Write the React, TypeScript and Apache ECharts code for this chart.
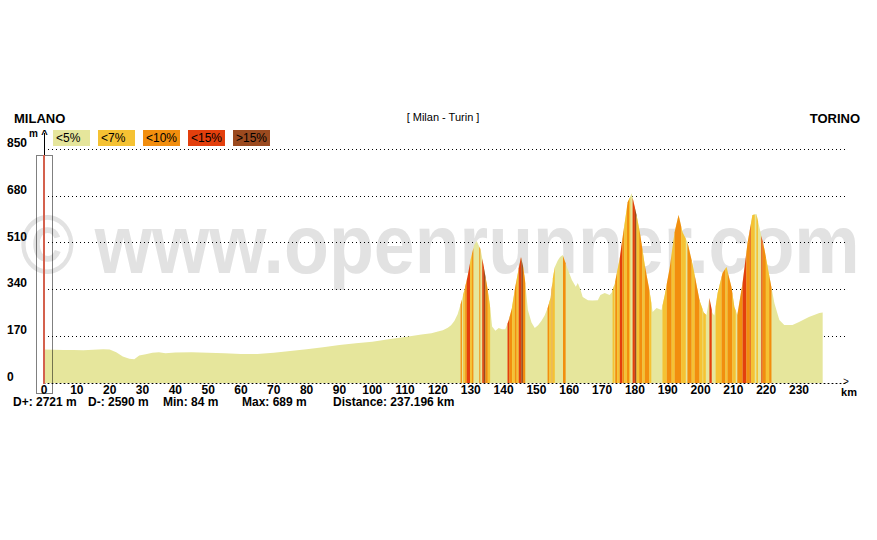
import React, { useEffect, useRef } from "react";
import * as echarts from "echarts";

// ---- data ----
const distKm: number[] = [
  0, 3, 6, 9, 12, 15, 18, 20, 22, 24, 26, 27.5, 29, 31, 33, 35, 37, 40, 45, 50, 55, 60, 65, 70, 75, 80, 85, 90, 95, 100,
  105, 110, 115, 118, 120, 121.5, 123, 124, 125, 126, 127, 128, 129, 130, 131, 131.8, 133, 134, 135, 135.8, 136.5, 137.5,
  138.5, 139.5, 140.5, 141.5, 142.5, 143.5, 144.5, 145.3, 146, 146.5, 147.4, 148.5, 149.5, 150.5, 151.5, 152.5, 153.5,
  154.3, 155, 155.6, 156.5, 157.2, 158, 159.3, 160.8, 162, 162.6, 163.4, 164.1, 165.7, 167, 168.7, 169.5, 170.8, 172.3,
  173, 173.9, 175.4, 176, 177, 177.8, 178.5, 179, 180.5, 181.5, 183, 184.5, 185.4, 186.6, 188.1, 189.1, 190.6, 192.1,
  193.3, 194.5, 196, 197.6, 199.7, 201, 201.8, 202.7, 203.6, 204.2, 205.2, 206.7, 207.9, 209.4, 210.3, 211.2, 212.8,
  214.3, 215.8, 217, 217.9, 219.5, 221, 222.5, 224, 225.5, 228, 230, 233, 236.2, 237.2,
];
const elevM: number[] = [
  122, 121, 120, 120, 119, 121, 123, 122, 112, 96, 88, 86, 100, 104, 110, 112, 108, 111, 112, 110, 108, 105, 105, 110, 116, 123, 130, 138, 144, 150,
  159, 167, 176, 181, 187, 192, 201, 210, 225, 250, 290, 335, 385, 450, 500, 516, 485, 420, 350, 285, 205, 190,
  200, 195, 195, 225, 270, 345, 410, 458, 420, 375, 265, 220, 200, 210, 225, 245, 275,
  310, 380, 421, 445, 458, 465, 421, 374, 350, 363, 340, 312, 301, 300, 301, 320, 327, 320,
  330, 363, 454, 508, 590, 657, 675, 689, 610, 548, 429, 331, 258, 272, 265, 320, 418, 548,
  610, 548, 512, 429, 300, 255, 247, 309, 254, 245, 327, 400, 421, 349, 276, 247, 363,
  508, 610, 614, 567, 483, 385, 290, 229, 211, 211, 222, 240, 254, 256,
];

// gradient stripes: [start km, end km, class index]
const stripes: number[][] = [
  [126.9, 127.3, 2], [127.7, 128.2, 1], [128.3, 128.8, 2], [128.8, 129.8, 3], [129.8, 130.4, 1], [130.4, 130.8, 2],
  [132.6, 132.9, 2], [133.5, 134.0, 3], [134.0, 134.5, 4], [134.5, 135.2, 2], [135.2, 135.9, 1],
  [141.2, 141.8, 3], [141.8, 142.6, 2], [142.6, 143.4, 1], [143.4, 144.0, 2], [144.0, 144.6, 1], [144.6, 145.4, 3],
  [145.4, 145.9, 4], [145.9, 146.6, 2],
  [153.4, 153.9, 2], [153.9, 154.4, 1], [154.6, 154.9, 2], [155.0, 155.6, 1], [158.1, 158.9, 2],
  [173.2, 173.8, 1], [174.0, 174.6, 2], [174.6, 175.4, 1], [175.4, 176.2, 3], [176.2, 176.8, 2], [176.8, 177.6, 1],
  [177.6, 178.2, 2], [178.2, 178.6, 1], [179.3, 180.0, 3], [180.0, 180.5, 4], [180.5, 181.3, 1], [181.3, 182.3, 2],
  [182.3, 183.0, 1], [183.0, 184.4, 2], [184.4, 185.0, 1],
  [188.4, 189.7, 1], [189.7, 191.2, 2], [191.2, 192.1, 1], [192.1, 194.1, 2], [194.1, 195.5, 1], [196.0, 197.3, 2],
  [197.3, 198.2, 1], [198.2, 199.7, 2], [199.7, 200.6, 1],
  [200.8, 201.6, 1], [202.7, 203.4, 3], [204.6, 206.4, 1], [206.4, 207.6, 2], [207.6, 208.2, 1], [208.2, 209.7, 2],
  [209.7, 210.7, 1], [211.2, 212.8, 2], [212.8, 214.0, 3], [214.0, 215.0, 2], [215.0, 215.3, 3], [215.3, 216.5, 1],
  [217.0, 217.5, 1], [218.5, 218.9, 3], [218.9, 219.9, 2], [219.9, 220.9, 1], [220.9, 221.6, 2],
];

const classLabels: string[] = ["<5%", "<7%", "<10%", "<15%", ">15%"];
const classColors: string[] = ["#e6e69c", "#f5c233", "#f28e0e", "#e33f0d", "#9b4a1f"];

const yTicks: number[] = [0, 170, 340, 510, 680, 850];
const startName = "MILANO";
const endName = "TORINO";
const routeTitle = "[ Milan - Turin ]";
const statTexts: string[] = ["D+: 2721 m", "D-: 2590 m", "Min: 84 m", "Max: 689 m", "Distance: 237.196 km"];
const statX: number[] = [13, 88, 163, 242, 333];
const watermark = "© www.openrunner.com";

const FONT = "'Liberation Sans', Arial, sans-serif";

function elevAt(km: number): number {
  if (km <= distKm[0]) return elevM[0];
  for (let i = 0; i < distKm.length - 1; i++) {
    if (km >= distKm[i] && km <= distKm[i + 1]) {
      const t = (km - distKm[i]) / (distKm[i + 1] - distKm[i]);
      return elevM[i] + t * (elevM[i + 1] - elevM[i]);
    }
  }
  return elevM[elevM.length - 1];
}

export default function App() {
  const ref = useRef<HTMLDivElement>(null);
  useEffect(() => {
    document.body.style.margin = "0";
    if (!ref.current) return;
    const chart = echarts.init(ref.current, undefined, { renderer: "svg" });

    const legendEls: any[] = [];
    classLabels.forEach((lab, i) => {
      legendEls.push({
        type: "rect",
        z: 100,
        shape: { x: 53 + 45 * i, y: 130, width: 37, height: 16 },
        style: { fill: classColors[i] },
      });
      legendEls.push({
        type: "text",
        z: 101,
        x: 56 + 45 * i,
        y: 138,
        style: { text: lab, fill: "#000", font: `12px ${FONT}`, textAlign: "left", textVerticalAlign: "middle" },
      });
    });

    const statEls = statTexts.map((t, i) => ({
      type: "text",
      x: statX[i],
      y: 402,
      style: {
        text: t,
        fill: "#000",
        font: `bold 12px ${FONT}`,
        lineHeight: 11,
        textAlign: "left",
        textVerticalAlign: "middle",
      },
    }));

    const option: any = {
      animation: false,
      backgroundColor: "#fff",
      grid: { left: 44, right: 32, top: 149, bottom: 157 },
      xAxis: {
        type: "value",
        min: 0,
        max: 244,
        interval: 10,
        axisLine: { show: true, lineStyle: { color: "#000", type: [1, 3], width: 1 } },
        axisTick: { show: false },
        splitLine: { show: false },
        axisLabel: {
          color: "#000",
          fontWeight: "bold",
          fontSize: 12,
          lineHeight: 11,
          fontFamily: FONT,
          margin: 1,
          formatter: (v: number) => (v > 235 ? "" : String(v)),
        },
      },
      yAxis: {
        type: "value",
        min: 0,
        max: 850,
        interval: 170,
        axisLine: { show: true, lineStyle: { color: "#000", width: 1 } },
        axisTick: { show: false },
        splitLine: { show: true, lineStyle: { color: "#000", type: [1, 3], width: 1 } },
        axisLabel: {
          color: "#000",
          fontWeight: "bold",
          fontSize: 12,
          fontFamily: FONT,
          align: "left",
          verticalAlign: "bottom",
          margin: 37,
          formatter: (v: number) => (yTicks.indexOf(v) >= 0 ? String(v) : ""),
        },
      },
      graphic: [
        {
          type: "text",
          z: -1,
          x: 440,
          y: 244,
          scaleX: 0.875,
          style: {
            text: watermark,
            fill: "#e2e2e2",
            font: `bold 84px ${FONT}`,
            textAlign: "center",
            textVerticalAlign: "middle",
          },
        },
        {
          type: "text",
          x: 14,
          y: 118,
          style: { text: startName, fill: "#000", font: `bold 13px ${FONT}`, textAlign: "left", textVerticalAlign: "middle" },
        },
        {
          type: "text",
          x: 443,
          y: 117,
          style: { text: routeTitle, fill: "#000", font: `11px ${FONT}`, textAlign: "center", textVerticalAlign: "middle" },
        },
        {
          type: "text",
          x: 860,
          y: 118,
          style: { text: endName, fill: "#000", font: `bold 13px ${FONT}`, textAlign: "right", textVerticalAlign: "middle" },
        },
        {
          type: "line",
          shape: { x1: 44.5, y1: 133, x2: 44.5, y2: 149 },
          style: { stroke: "#000", lineWidth: 1 },
        },
        {
          type: "text",
          x: 44.5,
          y: 134,
          style: { text: "^", fill: "#000", font: `bold 11px ${FONT}`, textAlign: "center", textVerticalAlign: "middle" },
        },
        {
          type: "text",
          x: 33.5,
          y: 133,
          style: { text: "m", fill: "#000", font: `bold 10px ${FONT}`, textAlign: "center", textVerticalAlign: "middle" },
        },
        {
          type: "text",
          x: 846,
          y: 381,
          style: {
            text: ">",
            fill: "#000",
            font: `10px ${FONT}`,
            lineHeight: 8,
            textAlign: "center",
            textVerticalAlign: "middle",
          },
        },
        {
          type: "text",
          x: 849,
          y: 392,
          style: {
            text: "km",
            fill: "#000",
            font: `bold 11px ${FONT}`,
            lineHeight: 10,
            textAlign: "center",
            textVerticalAlign: "middle",
          },
        },
        {
          type: "rect",
          z: 100,
          shape: { x: 36.5, y: 155.5, width: 16, height: 238 },
          style: { fill: "none", stroke: "#000", lineWidth: 1, lineDash: [1, 1] },
        },
        {
          type: "line",
          z: 101,
          shape: { x1: 44, y1: 155, x2: 44, y2: 384 },
          style: { stroke: "#d4614e", lineWidth: 2 },
        },
        ...legendEls,
        ...statEls,
      ],
      series: [
        {
          type: "line",
          z: 2,
          data: distKm.map((d, i) => [d, elevM[i]]),
          showSymbol: false,
          symbol: "none",
          lineStyle: { width: 0, color: classColors[0] },
          areaStyle: { color: classColors[0], opacity: 1 },
          silent: true,
        },
        {
          type: "custom",
          z: 3,
          clip: true,
          silent: true,
          data: stripes,
          renderItem: (params: any, api: any) => {
            const s = api.value(0);
            const e = api.value(1);
            const c = api.value(2);
            const pts: number[][] = [];
            pts.push(api.coord([s, elevAt(s)]));
            for (let i = 0; i < distKm.length; i++) {
              if (distKm[i] > s && distKm[i] < e) pts.push(api.coord([distKm[i], elevM[i]]));
            }
            pts.push(api.coord([e, elevAt(e)]));
            pts.push(api.coord([e, 0]));
            pts.push(api.coord([s, 0]));
            return {
              type: "polygon",
              shape: { points: pts },
              style: { fill: classColors[c] },
            };
          },
        },
      ],
    };
    chart.setOption(option);
    return () => chart.dispose();
  }, []);

  return <div ref={ref} style={{ width: 877, height: 540 }} />;
}
